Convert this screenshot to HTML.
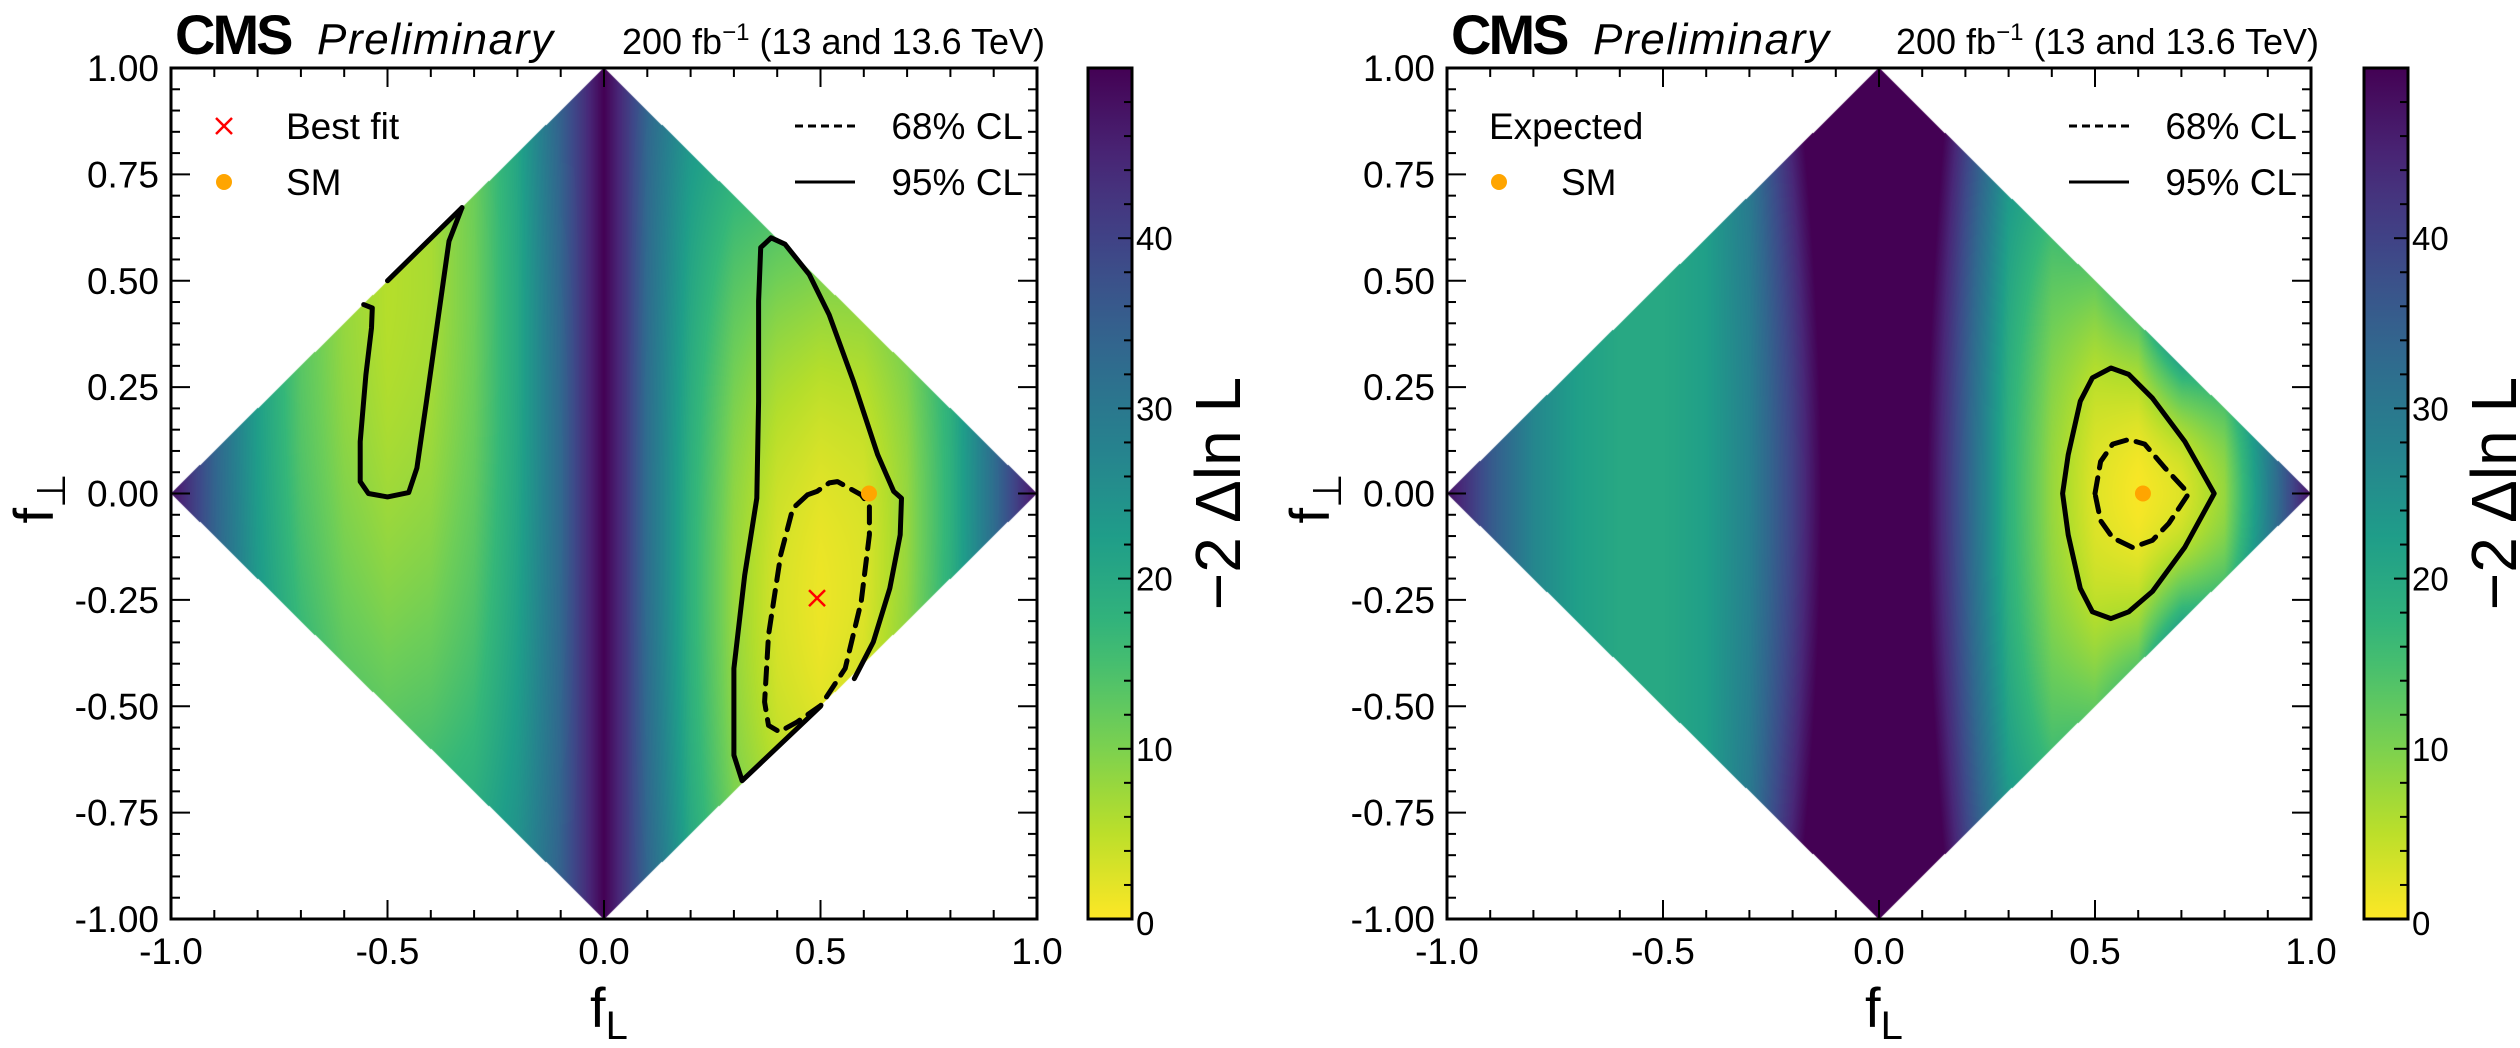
<!DOCTYPE html>
<html><head><meta charset="utf-8">
<style>
html,body{margin:0;padding:0;background:#fff;}
#wrap{position:relative;width:2520px;height:1048px;overflow:hidden;}
canvas{position:absolute;}
svg{position:absolute;left:0;top:0;}
text{font-family:"Liberation Sans",sans-serif;fill:#000;}
</style></head>
<body>
<div id="wrap">
<canvas id="hm0"></canvas>
<canvas id="hm1"></canvas>
<svg id="svg" width="2520" height="1048"></svg>
</div>
<script>
// ---- data ----
const fLGrid = [-1,-0.9,-0.8,-0.7,-0.6,-0.5,-0.4,-0.3,-0.2,-0.1,-0.05,0,0.05,0.1,0.2,0.3,0.4,0.5,0.6,0.7,0.8,0.9,1];
const obsProfile = [48,34,22,13,8,5.5,6.5,11,20,33,42,50,42,32,18,8,3,1.2,2.5,8,18,32,48];
const obsCurv = [0,2,3,5,6,7,7,5,3,2,0,0,0,2,5,10,14,15,15,12,8,4,0];
const obsCenter = [0,0.3,0.4,0.5,0.5,0.5,0.5,0.5,0.4,0,0,0,0,0,-0.2,-0.25,-0.25,-0.25,-0.2,-0.1,0,0,0];
const expProfile = [48,36,27,22,20,20,22,28,40,55,60,60,60,52,35,18,8,2.3,0.3,2.4,8,28,48];
const expCurv = [0,0,0,0,0,0,0,3,8,10,10,10,10,10,8,10,20,40,80,200,150,50,0];
const expCenter = [0,0,0,0,0,0,0,0,0,0,0,0,0,0,0,0,0,0,0,0,0,0,0];
const xTicks = [-1,-0.5,0,0.5,1];
const xTickLabels = ["-1.0","-0.5","0.0","0.5","1.0"];
const yTicks = [1,0.75,0.5,0.25,0,-0.25,-0.5,-0.75,-1];
const yTickLabels = ["1.00","0.75","0.50","0.25","0.00","-0.25","-0.50","-0.75","-1.00"];
const cbTicks = [0,10,20,30,40];
const cbMax = 50;
// contours [fL, fperp]
const obs95Island = [[-0.555,0.444],[-0.535,0.436],[-0.537,0.389],[-0.55,0.279],[-0.563,0.122],[-0.563,0.028],[-0.544,0.0],[-0.5,-0.008],[-0.451,0.002],[-0.432,0.06],[-0.41,0.217],[-0.382,0.42],[-0.358,0.593],[-0.328,0.672]];
const obs95IslandEdge = [[-0.5,0.5],[-0.328,0.672]];
const obs95Main = [[0.50,-0.50],[0.319,-0.675],[0.30,-0.615],[0.30,-0.411],[0.325,-0.192],[0.353,-0.011],[0.357,0.217],[0.357,0.452],[0.362,0.578],[0.386,0.601],[0.418,0.586],[0.474,0.515],[0.52,0.42],[0.576,0.264],[0.632,0.091],[0.669,0.005],[0.687,-0.011],[0.684,-0.097],[0.66,-0.223],[0.622,-0.349],[0.578,-0.435]];
const obs68 = [[0.47,-0.003],[0.436,-0.035],[0.408,-0.144],[0.38,-0.333],[0.371,-0.49],[0.38,-0.545],[0.405,-0.56],[0.446,-0.537],[0.501,-0.498],[0.557,-0.411],[0.594,-0.254],[0.613,-0.097],[0.613,-0.027],[0.594,-0.003],[0.539,0.028],[0.52,0.025],[0.492,0.005],[0.47,-0.003]];
const exp95 = [[0.425,0],[0.438,0.091],[0.466,0.217],[0.494,0.272],[0.537,0.295],[0.578,0.28],[0.633,0.224],[0.708,0.122],[0.776,0],[0.708,-0.126],[0.633,-0.23],[0.578,-0.278],[0.537,-0.294],[0.494,-0.278],[0.466,-0.223],[0.438,-0.097],[0.425,0]];
const exp68 = [[0.5,0],[0.513,0.075],[0.541,0.116],[0.578,0.127],[0.615,0.116],[0.662,0.06],[0.717,0],[0.671,-0.07],[0.633,-0.11],[0.587,-0.127],[0.541,-0.104],[0.513,-0.064],[0.5,0]];
const bestFit = [0.492,-0.246];
const smPoint = [0.612,0.0];
const smExpPoint = [0.611,0.0];

// ---- helpers ----
const viridis = [[68,1,84],[72,40,120],[62,73,137],[49,104,142],[38,130,142],[31,158,137],[53,183,121],[110,206,88],[181,222,43],[253,231,37]];
function cmap(v){
  let t = 1 - Math.max(0,Math.min(cbMax,v))/cbMax;
  t = Math.min(1,Math.max(0,t))*(viridis.length-1);
  const i = Math.min(viridis.length-2,Math.floor(t)), f=t-i;
  const a=viridis[i], b=viridis[i+1];
  return [a[0]+(b[0]-a[0])*f, a[1]+(b[1]-a[1])*f, a[2]+(b[2]-a[2])*f];
}
function interp(arr,x){
  for(let i=0;i<fLGrid.length-1;i++){
    if(x<=fLGrid[i+1]){const f=(x-fLGrid[i])/(fLGrid[i+1]-fLGrid[i]);return arr[i]+(arr[i+1]-arr[i])*f;}
  }
  return arr[arr.length-1];
}
const panels = [
  {x0:171,y0:68,W:866,H:851,cbx:1088,prof:obsProfile,curv:obsCurv,cen:obsCenter,canvas:'hm0'},
  {x0:1447,y0:68,W:864,H:851,cbx:2364,prof:expProfile,curv:expCurv,cen:expCenter,canvas:'hm1'}
];
const NS='http://www.w3.org/2000/svg';
const svg=document.getElementById('svg');
function el(tag,attrs,parent){const e=document.createElementNS(NS,tag);for(const k in attrs)e.setAttribute(k,attrs[k]);(parent||svg).appendChild(e);return e;}

panels.forEach((p,pi)=>{
  const X=f=>p.x0+(f+1)/2*p.W, Y=f=>p.y0+(1-f)/2*p.H;
  p.X=X;p.Y=Y;
  const cv=document.getElementById(p.canvas);
  cv.width=p.W;cv.height=p.H;cv.style.left=p.x0+'px';cv.style.top=p.y0+'px';
  const ctx=cv.getContext('2d');const img=ctx.createImageData(p.W,p.H);
  for(let j=0;j<p.H;j++){
    const fp=1-(j+0.5)/p.H*2;
    for(let i=0;i<p.W;i++){
      const fl=(i+0.5)/p.W*2-1;
      const k=(j*p.W+i)*4;
      if(Math.abs(fl)+Math.abs(fp)>1){img.data[k+3]=0;continue;}
      const d=fp-interp(p.cen,fl);
      const v=interp(p.prof,fl)+interp(p.curv,fl)*d*d;
      const c=cmap(v);
      img.data[k]=c[0];img.data[k+1]=c[1];img.data[k+2]=c[2];img.data[k+3]=255;
    }
  }
  ctx.putImageData(img,0,0);
  const g=el('g',{});
  
  
  const fr=el('rect',{x:p.x0,y:p.y0,width:p.W,height:p.H,fill:'none',stroke:'#000','stroke-width':3},g);
  
  
  for(let m=-10;m<=10;m++){
    const f=m/10, x=X(f), major=(m%5===0), L=major?19:9;
    el('line',{x1:x,x2:x,y1:p.y0+p.H,y2:p.y0+p.H-L,stroke:'#000','stroke-width':2},g);
    el('line',{x1:x,x2:x,y1:p.y0,y2:p.y0+L,stroke:'#000','stroke-width':2},g);
  }
  for(let m=-20;m<=20;m++){
    const f=m/20, y=Y(f), major=(m%5===0), L=major?19:9;
    el('line',{x1:p.x0,x2:p.x0+L,y1:y,y2:y,stroke:'#000','stroke-width':2},g);
    el('line',{x1:p.x0+p.W,x2:p.x0+p.W-L,y1:y,y2:y,stroke:'#000','stroke-width':2},g);
  }
  xTicks.forEach((t,i)=>{const tx=el('text',{x:X(t),y:964,'font-size':37,'text-anchor':'middle'},g);tx.textContent=xTickLabels[i];
    });
  yTicks.forEach((t,i)=>{const tx=el('text',{x:p.x0-12,y:Y(t)+13,'font-size':37,'text-anchor':'end'},g);tx.textContent=yTickLabels[i];
    });
  const xl=el('text',{x:X(0)-14,y:1027,'font-size':56},g);
  xl.innerHTML='f<tspan font-size="40" dy="12">L</tspan>';
  
  const yl=el('text',{x:0,y:0,'font-size':56,transform:`translate(${p.x0-118},${Y(0)+30}) rotate(-90)`},g);
  yl.innerHTML='f<tspan font-size="40" dy="12">⊥</tspan>';
  
  const cms=el('text',{x:p.x0+4,y:54,'font-size':56,'font-weight':'bold','letter-spacing':-3},g);cms.textContent='CMS';
  
  const pre=el('text',{x:p.x0+146,y:54,'font-size':44,'font-style':'italic',textLength:236},g);pre.textContent='Preliminary';
  
  const lum=el('text',{x:p.x0+p.W+8,y:54,'font-size':36,'text-anchor':'end'},g);
  lum.innerHTML='200 fb<tspan font-size="24" dy="-14">−1</tspan><tspan dy="14"> (13 and 13.6 TeV)</tspan>';
  
  const cbg=el('g',{},g);
  
  const defs=el('defs',{},cbg);
  const lg=el('linearGradient',{id:'cbg'+pi,x1:0,y1:1,x2:0,y2:0},defs);
  for(let s=0;s<=20;s++){const c=cmap(s/20*cbMax);el('stop',{offset:s/20,'stop-color':`rgb(${c.map(Math.round).join(',')})`},lg);}
  el('rect',{x:p.cbx,y:p.y0,width:44,height:p.H,fill:`url(#cbg${pi})`,stroke:'#000','stroke-width':3},cbg);
  const CY=v=>p.y0+p.H-v/cbMax*p.H;
  for(let v=0;v<=cbMax;v+=2){const L=(v%10===0)?14:8;el('line',{x1:p.cbx+44,x2:p.cbx+44-L,y1:CY(v),y2:CY(v),stroke:'#000','stroke-width':2},cbg);}
  cbTicks.forEach(v=>{const t=el('text',{x:p.cbx+48,y:CY(v)+(v===0?16:12),'font-size':33},cbg);t.textContent=String(v);
    });
  const cl=el('text',{x:0,y:0,'font-size':64,'text-anchor':'middle',transform:`translate(${p.cbx+152},${p.y0+p.H/2}) rotate(-90)`},cbg);
  cl.textContent='−2 Δln L';
  
  const lgR=el('g',{},g);
  
  const lx=p.x0+p.W-242;
  el('line',{x1:lx,x2:lx+60,y1:126,y2:126,stroke:'#000','stroke-width':3,'stroke-dasharray':'8,5'},lgR);
  el('line',{x1:lx,x2:lx+60,y1:182,y2:182,stroke:'#000','stroke-width':3},lgR);
  const t68=el('text',{x:p.x0+p.W-14,y:139,'font-size':37,'text-anchor':'end'},lgR);t68.textContent='68% CL';
  
  const t95=el('text',{x:p.x0+p.W-14,y:195,'font-size':37,'text-anchor':'end'},lgR);t95.textContent='95% CL';
  
});

function poly(p,pts,dash,name){
  const d=pts.map((q,i)=>(i?'L':'M')+p.X(q[0]).toFixed(1)+','+p.Y(q[1]).toFixed(1)).join(' ');
  const e=el('path',{d:d,fill:'none',stroke:'#000','stroke-width':5,'stroke-linejoin':'round','stroke-linecap':'round'});
  if(dash)e.setAttribute('stroke-dasharray','16,10');
  
  
}
const P0=panels[0],P1=panels[1];
poly(P0,obs95Island,false,'contour-95-island');
poly(P0,obs95IslandEdge,false,'contour-95-island-edge');
poly(P0,obs95Main,false,'contour-95-main');
poly(P0,obs68,true,'contour-68');
poly(P1,exp95,false,'expected-contour-95');
poly(P1,exp68,true,'expected-contour-68');

function cross(x,y,s,name){
  const g=el('g',{});
  el('line',{x1:x-s,y1:y-s,x2:x+s,y2:y+s,stroke:'#ff0000','stroke-width':2.5},g);
  el('line',{x1:x-s,y1:y+s,x2:x+s,y2:y-s,stroke:'#ff0000','stroke-width':2.5},g);
  
  
}
function dot(x,y,name){
  const c=el('circle',{cx:x,cy:y,r:8,fill:'#ffa500'});
  
  
}
cross(P0.X(bestFit[0]),P0.Y(bestFit[1]),8,'best-fit-marker');
dot(P0.X(smPoint[0]),P0.Y(smPoint[1]),'sm-marker');
dot(P1.X(smExpPoint[0]),P1.Y(smExpPoint[1]),'sm-expected-marker');
cross(224,126,8,'legend-best-fit-marker');
const tb=el('text',{x:286,y:139,'font-size':37});tb.textContent='Best fit';

dot(224,182,'legend-sm-marker');
const ts=el('text',{x:286,y:195,'font-size':37});ts.textContent='SM';

const te=el('text',{x:1489,y:139,'font-size':37});te.textContent='Expected';

dot(1499,182,'legend-sm-expected-marker');
const ts2=el('text',{x:1561,y:195,'font-size':37});ts2.textContent='SM';

</script>
</body></html>
